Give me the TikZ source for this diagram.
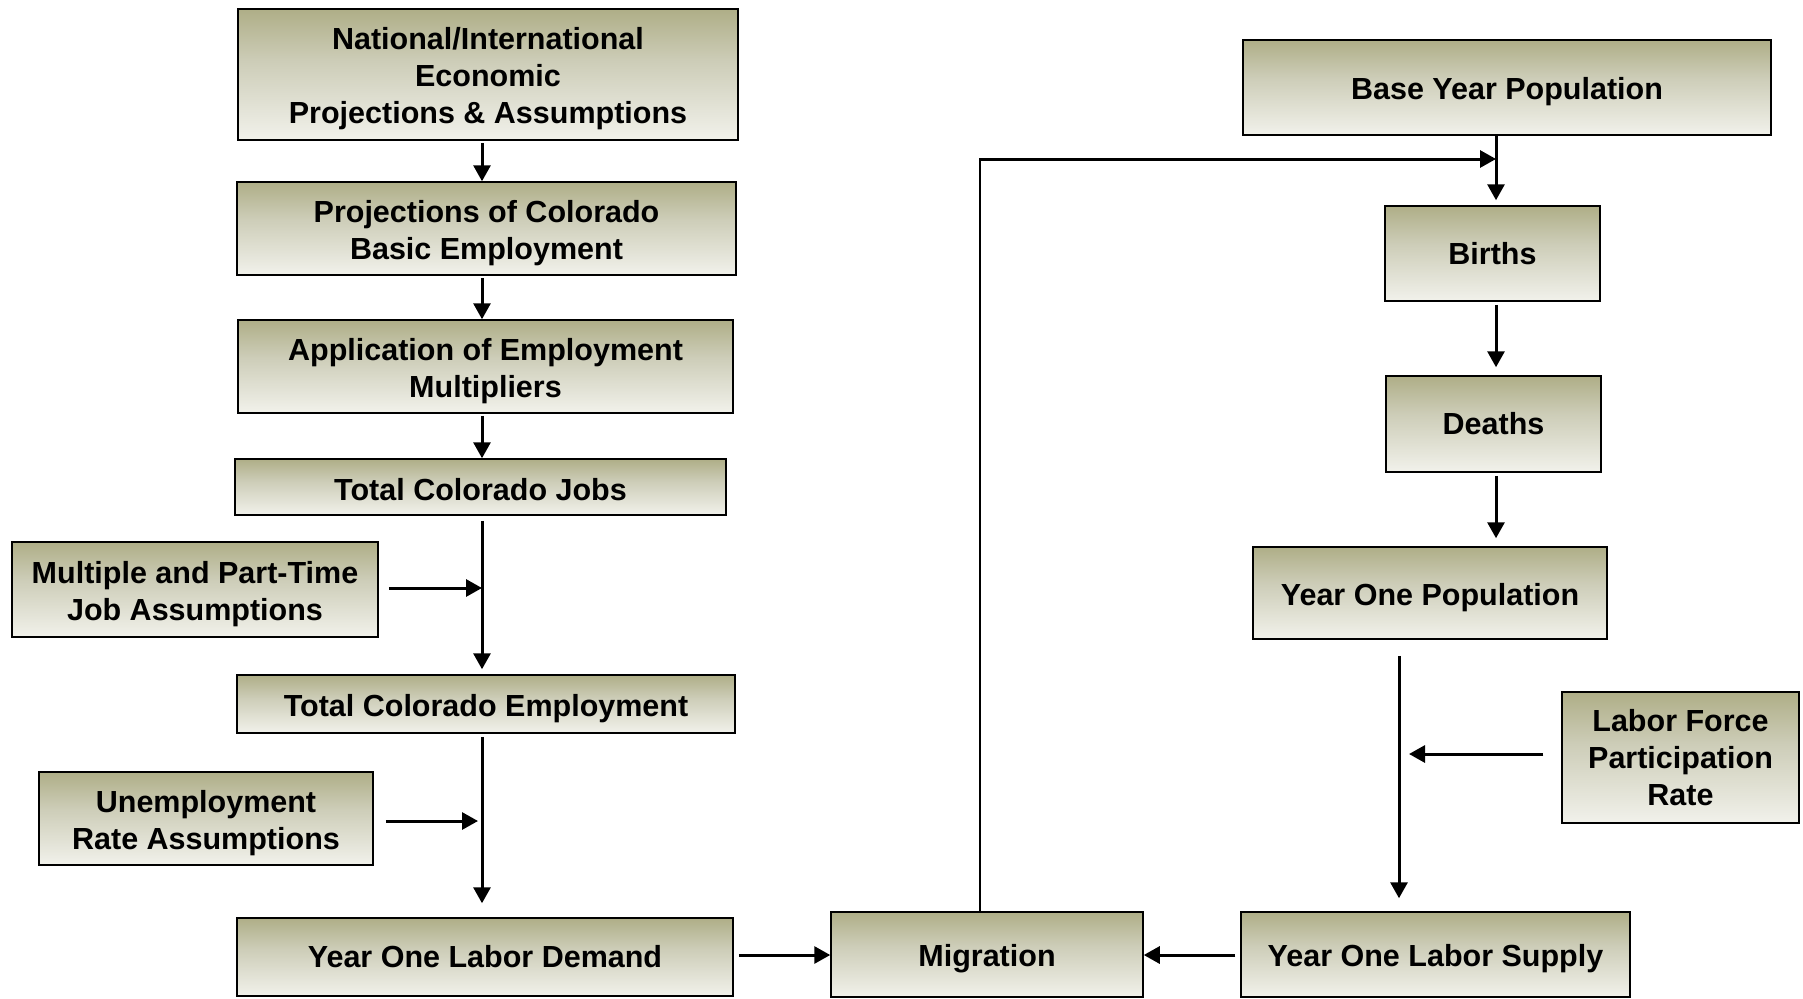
\documentclass[tikz,border=0pt]{standalone}
\usepackage{fontspec}
\setmainfont{Liberation Sans}
\usetikzlibrary{arrows.meta}
\definecolor{topc}{RGB}{158,157,108}
\definecolor{midc}{RGB}{205,205,184}
\definecolor{botc}{RGB}{250,250,247}
\pgfdeclareverticalshading{olivegrad}{100bp}{color(0bp)=(botc); color(18bp)=(botc); color(55bp)=(midc); color(86bp)=(topc); color(100bp)=(topc)}
\newcommand{\stU}{\rule{0pt}{31pt}}
\newcommand{\stH}{\rule{0pt}{26.5pt}}
\begin{document}
\begin{tikzpicture}[x=1pt,y=-1pt,
  box/.style={draw, line width=1.5pt, shading=olivegrad, inner sep=0pt, align=center,
    font=\fontsize{30.5}{37}\selectfont\bfseries},
  arr/.style={line width=3pt, -{Triangle[length=16pt,width=17pt]}}]
\useasboundingbox (0,0) rectangle (1803,998);
% left column
\node[box, minimum width=500pt, minimum height=131pt] (nat) at (488,74.5) {\stU National/International\\Economic\\Projections \& Assumptions};
\node[box, minimum width=499pt, minimum height=93pt] (proj) at (486.5,228.5) {\stU Projections of Colorado\\Basic Employment};
\node[box, minimum width=495pt, minimum height=93pt] (app) at (485.5,366.5) {\stU Application of Employment\\Multipliers};
\node[box, minimum width=491pt, minimum height=56pt] (jobs) at (480.5,487) {\stH Total Colorado Jobs};
\node[box, minimum width=366pt, minimum height=95pt] (mult) at (195,589.5) {\stU Multiple and Part-Time\\Job Assumptions};
\node[box, minimum width=498pt, minimum height=58pt] (emp) at (486,704) {\stU Total Colorado Employment};
\node[box, minimum width=334pt, minimum height=93pt] (unemp) at (206,818.5) {\stU Unemployment\\Rate Assumptions};
\node[box, minimum width=496pt, minimum height=78pt] (demand) at (485,957) {Year One Labor Demand};
% bottom middle
\node[box, minimum width=312pt, minimum height=85pt] (migr) at (987,954.5) {\stU Migration};
% right column
\node[box, minimum width=389pt, minimum height=85pt] (supply) at (1435.5,954.5) {\stU Year One Labor Supply};
\node[box, minimum width=528pt, minimum height=95pt] (base) at (1507,87.5) {\stU Base Year Population};
\node[box, minimum width=215pt, minimum height=95pt] (births) at (1492.5,253.5) {Births};
\node[box, minimum width=215pt, minimum height=96pt] (deaths) at (1493.5,424) {Deaths};
\node[box, minimum width=354pt, minimum height=92pt] (yop) at (1430,593) {\stU Year One Population};
\node[box, minimum width=237pt, minimum height=131pt] (lfpr) at (1680.5,757.5) {Labor Force\\Participation\\Rate};
% helper coordinates
\coordinate (lx) at (482,0);
\coordinate (rx) at (1496,0);
\coordinate (sx) at (1399,0);
\coordinate (fx) at (980,0);
\coordinate (m1) at (482,588);
\coordinate (m2) at (482,821);
\coordinate (m3) at (1399,754);
\coordinate (dm) at (0,955);
\coordinate (fc) at (980,159);
\coordinate (fb) at (1496,159);
% left connectors
\draw[arr, shorten <=2pt] (nat.south -| lx) -- (proj.north -| lx);
\draw[arr, shorten <=2pt] (proj.south -| lx) -- (app.north -| lx);
\draw[arr, shorten <=2pt] (app.south -| lx) -- (jobs.north -| lx);
\draw[arr, shorten <=5pt, shorten >=5pt] (jobs.south -| lx) -- (emp.north -| lx);
\draw[arr, shorten <=3pt, shorten >=14pt] (emp.south -| lx) -- (demand.north -| lx);
\draw[arr, shorten <=10pt] (mult.east |- m1) -- (m1);
\draw[arr, shorten <=12pt, shorten >=4pt] (unemp.east |- m2) -- (m2);
\draw[arr, shorten <=5pt] (demand.east |- dm) -- (migr.west |- dm);
\draw[arr, shorten <=5pt] (supply.west |- dm) -- (migr.east |- dm);
% feedback
\draw[line width=1.5pt] (migr.north -| fx) -- (fc);
\draw[arr] ([xshift=-0.75pt]fc) -- (fb);
% right connectors
\draw[arr, shorten >=5pt] (base.south -| rx) -- (births.north -| rx);
\draw[arr, shorten <=3pt, shorten >=8pt] (births.south -| rx) -- (deaths.north -| rx);
\draw[arr, shorten <=3pt, shorten >=8pt] (deaths.south -| rx) -- (yop.north -| rx);
\draw[arr, shorten <=16pt, shorten >=13pt] (yop.south -| sx) -- (supply.north -| sx);
\draw[arr, shorten <=18pt, shorten >=10pt] (lfpr.west |- m3) -- (m3);
\end{tikzpicture}
\end{document}
